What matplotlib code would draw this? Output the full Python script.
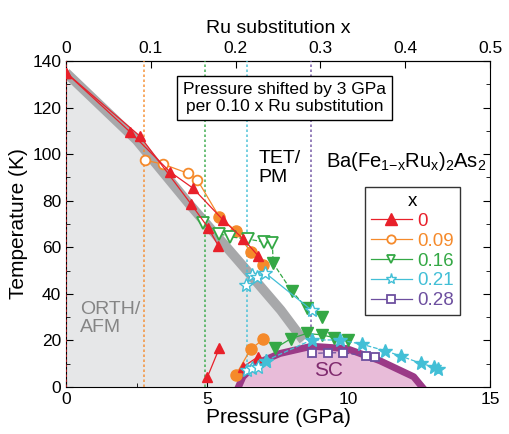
import numpy as np
import matplotlib.pyplot as plt
from matplotlib.ticker import MultipleLocator

plt.rcParams['font.family'] = ['Liberation Sans', 'DejaVu Sans']

# colours per composition
c_red, c_org, c_grn, c_cyn, c_pur = '#e8202a', '#f58a2b', '#34a845', '#42bfd6', '#6d4f9f'

# Ru compositions: legend labels and the shifted pressure of each sample
ru_labels = ['0', '0.09', '0.16', '0.21', '0.28']
ru_colors = [c_red, c_org, c_grn, c_cyn, c_pur]
ru_shift_p = [0.0, 2.76, 4.92, 6.39, 8.66]

# x = 0 (red triangles), several runs
red_a_p = [0.0, 2.26, 3.68, 4.48, 5.56, 6.27, 6.80]
red_a_t = [135, 109.6, 92.4, 85.5, 71.7, 63.6, 56.3]
red_b_p = [0.0, 2.62, 4.41, 5.03, 5.39]
red_b_t = [135, 107.7, 78.8, 68.4, 60.6]
red_c_p = [5.0, 5.42]
red_c_t = [4.2, 16.6]
red_d_p = [6.27, 6.80]
red_d_t = [8.7, 13.0]

# x = 0.09 (orange circles)
org_open_p = [2.79, 3.44, 4.33, 4.64]
org_open_t = [97.4, 95.7, 91.7, 89.1]
org_fill_p = [5.42, 6.01, 6.53, 6.98]
org_fill_t = [73.1, 67.0, 58.0, 52.4]
org_low_p = [6.01, 6.53, 6.98]
org_low_t = [5.2, 16.2, 20.5]

# x = 0.16 (green down triangles)
grn_open_p = [4.86, 5.42, 5.80, 6.45, 7.00, 7.30]
grn_open_t = [70.5, 65.9, 64.5, 63.5, 62.3, 61.7]
grn_fill_p = [7.33, 7.98, 8.51, 9.04]
grn_fill_t = [53.1, 41.3, 34.0, 30.2]
grn_low_p = [7.39, 7.95, 8.51, 9.04, 9.48, 9.96]
grn_low_t = [16.6, 20.7, 23.0, 22.4, 21.2, 20.0]

# x = 0.21 (cyan stars)
cyn_up_p = [6.37, 6.57, 6.77, 7.04, 8.69]
cyn_up_t = [43.8, 48.1, 47.4, 49.1, 33.0]
cyn_low_p = [6.39, 6.57, 6.80, 7.07, 8.69, 9.69, 10.46, 11.28, 11.84, 12.55, 13.02, 13.17]
cyn_low_t = [7.3, 8.0, 8.7, 11.3, 20.2, 20.2, 18.4, 15.6, 13.3, 10.2, 8.5, 7.8]

# x = 0.28 (purple squares)
pur_p = [8.69, 9.28, 9.81, 10.61, 10.93]
pur_t = [14.4, 14.7, 14.7, 13.4, 12.7]

# phase boundary (grey band) and SC dome
bound_p = [0.0, 2.5, 4.4, 6.4, 7.6, 8.4]
bound_t = [135, 106, 78, 50, 33, 20]
dome_p = [6.1, 6.26, 6.74, 7.57, 8.69, 9.93, 11.1, 12.3, 12.6]
dome_t = [0, 4.4, 10.1, 14.4, 17.5, 16.5, 11.3, 4.4, 0]

fig = plt.figure(figsize=(5.1, 4.34), dpi=100)
ax = fig.add_axes([0.1294, 0.1083, 0.8314, 0.7511])

# ORTH/AFM region
fill_p = bound_p + [bound_p[-1], 0]
fill_t = bound_t + [0, 0]
ax.fill(fill_p, fill_t, color='#e6e7e8', lw=0, zorder=1)
ax.plot(bound_p, bound_t, color='#a7a8aa', lw=7, solid_capstyle='butt', zorder=2)

# dotted lines for each composition
for xp, col in zip(ru_shift_p, ru_colors):
    ax.axvline(xp, color=col, ls=(0, (1.5, 1.5)), lw=1.2, alpha=0.85, zorder=3)

# SC dome
ax.fill(dome_p, dome_t, color='#e8bcd9', lw=0, zorder=4)
ax.plot(dome_p, dome_t, color='#9b3a87', lw=5, solid_joinstyle='round', zorder=5)

lw = 0.9
ms = 7
# red
for pp, tt in [(red_a_p, red_a_t), (red_b_p, red_b_t), (red_c_p, red_c_t), (red_d_p, red_d_t)]:
    ax.plot(pp, tt, '-^', color=c_red, lw=lw, ms=ms, zorder=8)
# orange
ax.plot(org_open_p + org_fill_p, org_open_t + org_fill_t, '-', color=c_org, lw=lw, zorder=7)
ax.plot(org_open_p, org_open_t, 'o', mfc='white', mec=c_org, mew=1.3, ms=ms, zorder=7)
ax.plot(org_fill_p, org_fill_t, 'o', color=c_org, ms=ms + 1, zorder=7)
ax.plot(org_low_p, org_low_t, '-o', color=c_org, lw=lw, ms=ms + 1, zorder=7)
# green
ax.plot(grn_open_p + grn_fill_p, grn_open_t + grn_fill_t, '--', color=c_grn, lw=lw, zorder=7)
ax.plot(grn_open_p, grn_open_t, 'v', mfc='white', mec=c_grn, mew=1.3, ms=ms + 1, zorder=7)
ax.plot(grn_fill_p, grn_fill_t, 'v', color=c_grn, ms=ms + 1, zorder=7)
ax.plot(grn_low_p, grn_low_t, '-v', color=c_grn, lw=lw, ms=ms + 1, zorder=7)
# cyan
ax.plot(cyn_up_p, cyn_up_t, '-*', color=c_cyn, mfc='white', mec=c_cyn, mew=1, lw=lw, ms=ms + 3, zorder=9)
ax.plot(cyn_low_p[:4], cyn_low_t[:4], '-*', color=c_cyn, mfc='white', mec=c_cyn, mew=1, lw=lw, ms=ms + 3, zorder=9)
ax.plot(cyn_low_p[3:], cyn_low_t[3:], '--*', color=c_cyn, lw=lw, ms=ms + 3, zorder=9)
# purple
ax.plot(pur_p, pur_t, '--s', color=c_pur, mfc='white', mec=c_pur, mew=1.3, lw=lw, ms=6, zorder=9)

# legend
handles = [
    ax.plot([], [], '-^', color=c_red, lw=lw, ms=8)[0],
    ax.plot([], [], '-o', color=c_org, mfc='white', mew=1.3, lw=lw, ms=6)[0],
    ax.plot([], [], '-v', color=c_grn, mfc='white', mew=1.3, lw=lw, ms=6)[0],
    ax.plot([], [], '-*', color=c_cyn, mfc='white', mew=1, lw=lw, ms=8)[0],
    ax.plot([], [], '-s', color=c_pur, mfc='white', mew=1.3, lw=lw, ms=6)[0],
]
leg = ax.legend(handles, ru_labels, title='x', loc='lower left', bbox_to_anchor=(10.58, 30.9),
                bbox_transform=ax.transData, borderaxespad=0, fontsize=13.5, title_fontsize=13.5,
                frameon=True, fancybox=False, edgecolor='black', handlelength=2.2,
                handletextpad=0.3, labelspacing=0.15, borderpad=0.3, labelcolor=ru_colors)
leg.get_frame().set_linewidth(1)
leg.set_zorder(20)

# annotations
ax.text(0.5, 29.5, 'ORTH/\nAFM', color='#858585', fontsize=14, va='center', ha='left',
        linespacing=1.1, zorder=10)
ax.text(6.8, 94, 'TET/\nPM', color='black', fontsize=14, va='center', ha='left',
        linespacing=1.1, zorder=10)
ax.text(9.2, 97, r'Ba(Fe$_{\mathregular{1{-}x}}$Ru$_{\mathregular{x}}$)$_{\mathregular{2}}$As$_{\mathregular{2}}$',
        fontsize=14.5, va='center', ha='left', zorder=10)
ax.text(9.3, 7, 'SC', color='#7f2a6e', fontsize=15, ha='center', va='center', zorder=10)
ax.text(7.74, 124, 'Pressure shifted by 3 GPa\nper 0.10 x Ru substitution', fontsize=12.5,
        ha='center', va='center', linespacing=1.15, zorder=10,
        bbox=dict(boxstyle='square,pad=0.35', fc='white', ec='black', lw=1))

ax.set_xlim(0, 15)
ax.set_ylim(0, 140)
ax.xaxis.set_major_locator(MultipleLocator(5))
ax.xaxis.set_minor_locator(MultipleLocator(2.5))
ax.yaxis.set_major_locator(MultipleLocator(20))
ax.yaxis.set_minor_locator(MultipleLocator(10))
ax.tick_params(which='both', direction='in', labelsize=12.5, right=True)
ax.tick_params(which='major', length=5)
ax.tick_params(which='minor', length=3)
ax.set_xlabel('Pressure (GPa)', fontsize=15, labelpad=1)
ax.set_ylabel('Temperature (K)', fontsize=15, labelpad=3)

top = ax.secondary_xaxis('top', functions=(lambda p: p / 30.0, lambda x: x * 30.0))
top.set_xticks([0, 0.1, 0.2, 0.3, 0.4, 0.5], ['0', '0.1', '0.2', '0.3', '0.4', '0.5'])
top.tick_params(direction='in', labelsize=12.5, length=5)
top.set_xlabel('Ru substitution x', fontsize=14, labelpad=6)

fig.savefig('out.png', dpi=100)
